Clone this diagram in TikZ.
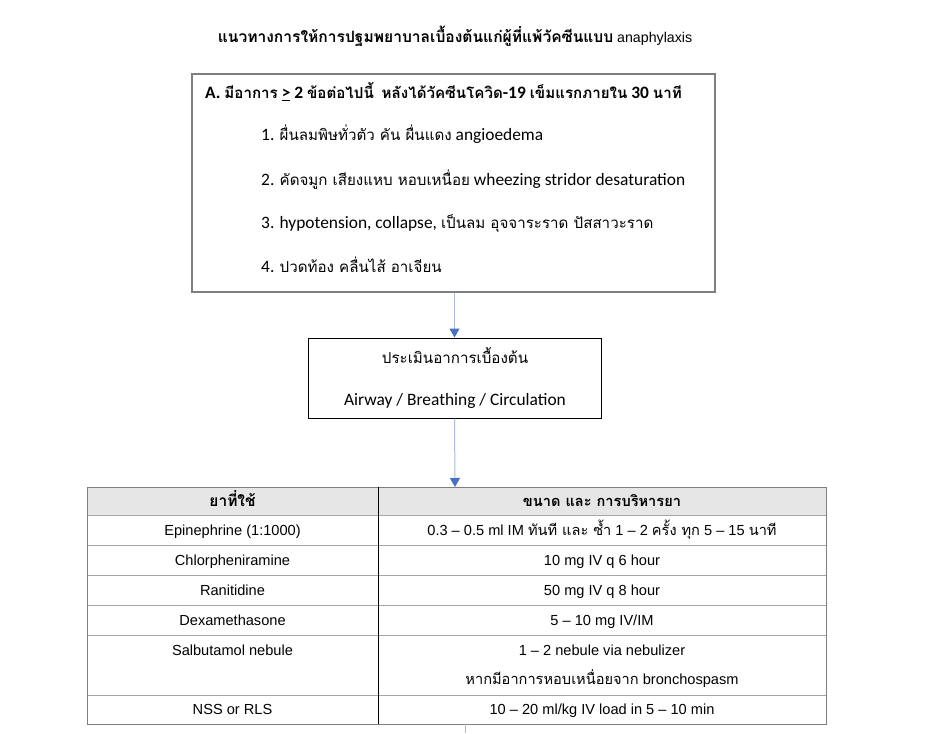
\documentclass[tikz,border=0pt]{standalone}
\usepackage{fontspec}
\usetikzlibrary{arrows.meta}
\setmainfont{Carlito}
\newfontfamily\thai[Script=Thai,Scale=0.87]{Loma}
\newfontfamily\thaitab[Script=Thai]{Loma}
\newfontfamily\arial{Liberation Sans}
\newcommand{\T}[1]{{\thai #1}}
\newcommand{\TT}[1]{{\thaitab #1}}
\definecolor{boxgray}{HTML}{7F7F7F}
\definecolor{linegray}{HTML}{A6A6A6}
\definecolor{headfill}{HTML}{E7E6E6}
\definecolor{arrline}{HTML}{A9BCE0}
\definecolor{arrhead}{HTML}{4472C4}
\tikzset{
  itemtext/.style={anchor=base west,inner sep=0pt,font=\fontsize{17.4}{20}\selectfont},
  boxtext/.style={anchor=base,inner sep=0pt,font=\fontsize{17.4}{20}\selectfont},
  celltext/.style={anchor=base,inner sep=0pt,font=\arial\fontsize{14.6}{17}\selectfont},
  flow/.style={draw=arrline,line width=1pt,-{Triangle[width=10pt,length=9pt,color=arrhead]}},
}
\begin{document}
\begin{tikzpicture}[x=1pt,y=-1pt]
\useasboundingbox (0,0) rectangle (944,733);
% title
\node[anchor=base,inner sep=0pt,font=\arial\fontsize{14.2}{17}\selectfont] (title) at (455,43)
  {{\thaitab\bfseries\fontsize{15.6}{18}\selectfont แนวทางการให้การปฐมพยาบาลเบื้องต้นแก่ผู้ที่แพ้วัคซีนแบบ} anaphylaxis};
% box A
\node[draw=boxgray,line width=1.3pt,minimum width=523pt,minimum height=218pt,inner sep=0pt] (boxA) at (453.5,183) {};
\node[itemtext,font=\bfseries\fontsize{17.4}{20}\selectfont] (lineA) at (205,99)
  {A. \T{มีอาการ} \underline{>} 2 \T{ข้อต่อไปนี้} \ \T{หลังได้วัคซีนโควิด}-19 \T{เข็มแรกภายใน} 30 \T{นาที}};
\node[itemtext] (i1) at (261,140) {1. \T{ผื่นลมพิษทั่วตัว คัน ผื่นแดง} angioedema};
\node[itemtext] (i2) at (261,185) {2. \T{คัดจมูก เสียงแหบ หอบเหนื่อย} wheezing stridor desaturation};
\node[itemtext] (i3) at (261,228) {3. hypotension, collapse, \T{เป็นลม อุจจาระราด ปัสสาวะราด}};
\node[itemtext] (i4) at (261,272) {4. \T{ปวดท้อง คลื่นไส้ อาเจียน}};
% box B
\node[draw=black,line width=1pt,minimum width=293pt,minimum height=80pt,inner sep=0pt] (boxB) at (454.5,378) {};
\node[boxtext] (b1) at (455,363) {\T{ประเมินอาการเบื้องต้น}};
\node[boxtext] (b2) at (455,405) {Airway / Breathing / Circulation};
% table
\coordinate (tabtop) at (455,487);
\coordinate (tabbot) at (465,724);
\coordinate (pageend) at (465,733);
\fill[headfill] (87,487) rectangle (826,515);
\foreach \yy in {515,545,575,605,635,695}
  \draw[linegray,line width=1pt] (87,\yy) -- (826,\yy);
\draw[boxgray,line width=1pt] (87,487) rectangle (826,724);
\draw[black,line width=1pt] (378,487) -- (378,724);
\node[celltext] (h1) at (232.5,506) {\TT{\bfseries\fontsize{15.5}{18}\selectfont ยาที่ใช้}};
\node[celltext] (h2) at (602,506) {\TT{\bfseries ขนาด และ การบริหารยา}};
\node[celltext] (r1a) at (232.5,535) {Epinephrine (1:1000)};
\node[celltext] (r1b) at (602,535) {0.3 – 0.5 ml IM \TT{ทันที และ ซ้ำ} 1 – 2 \TT{ครั้ง ทุก} 5 – 15 \TT{นาที}};
\node[celltext] (r2a) at (232.5,565) {Chlorpheniramine};
\node[celltext] (r2b) at (602,565) {10 mg IV q 6 hour};
\node[celltext] (r3a) at (232.5,595) {Ranitidine};
\node[celltext] (r3b) at (602,595) {50 mg IV q 8 hour};
\node[celltext] (r4a) at (232.5,625) {Dexamethasone};
\node[celltext] (r4b) at (602,625) {5 – 10 mg IV/IM};
\node[celltext] (r5a) at (232.5,655) {Salbutamol nebule};
\node[celltext] (r5b) at (602,655) {1 – 2 nebule via nebulizer};
\node[celltext] (r5c) at (602,684) {\TT{หากมีอาการหอบเหนื่อยจาก} bronchospasm};
\node[celltext] (r6a) at (232.5,714) {NSS or RLS};
\node[celltext] (r6b) at (602,714) {10 – 20 ml/kg IV load in 5 – 10 min};
% connectors
\draw[flow] (boxA.south -| boxB.north) -- (boxB.north);
\draw[flow] (boxB.south) -- (tabtop);
\draw[arrline,line width=1pt] (tabbot) -- (pageend);
\end{tikzpicture}
\end{document}
